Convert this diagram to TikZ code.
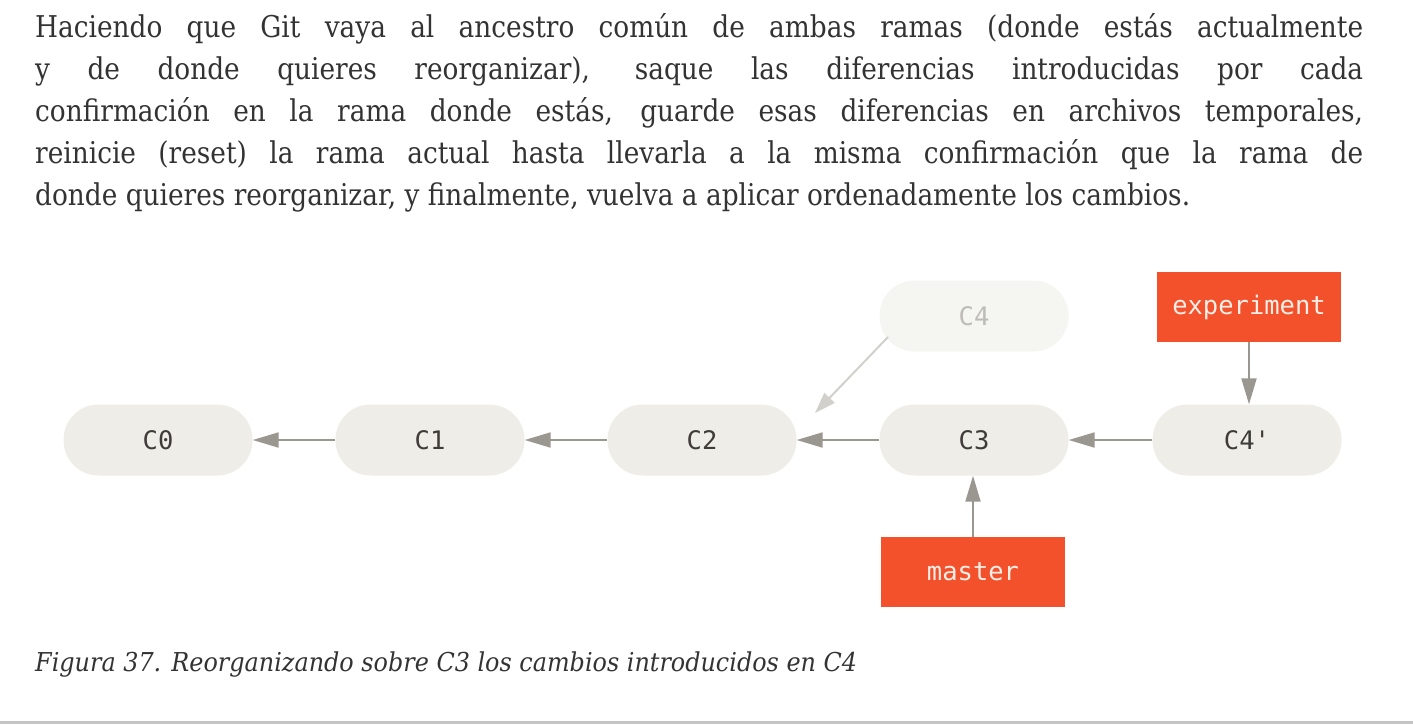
\documentclass[tikz,border=0pt]{standalone}
\usepackage{fontspec}
\usepackage{graphicx}
\setmainfont{DejaVu Serif}
\newfontfamily\monof{DejaVu Sans Mono}
\usetikzlibrary{arrows.meta}
\definecolor{txt}{HTML}{333333}
\definecolor{monotxt}{HTML}{3E3B38}
\definecolor{nodefill}{HTML}{EEEDE7}
\definecolor{ghostfill}{HTML}{F5F5F1}
\definecolor{ghosttxt}{HTML}{BDBCB8}
\definecolor{arrowc}{HTML}{9A9690}
\definecolor{ghostarrow}{HTML}{D2D0CB}
\definecolor{branchred}{HTML}{F3512B}
\definecolor{branchtxt}{HTML}{F3EEE6}
\definecolor{rulec}{HTML}{C4C4C4}
\newlength\natw
\newcommand\parfont{\fontsize{30}{42}\selectfont}
\newcommand\capfont{\fontsize{26}{32}\selectfont\itshape}
\newcommand\lastlinetext{donde quieres reorganizar, y finalmente, vuelva a aplicar ordenadamente los cambios.}
\newcommand\captext{Figura 37. Reorganizando sobre C3 los cambios introducidos en C4}
\newcommand\jline[1]{\parfont\settowidth\natw{\lastlinetext}%
  \pgfmathsetmacro\sc{1155pt/\natw}\pgfmathsetlengthmacro\jw{1328pt/\sc}%
  \scalebox{\sc}[1]{\makebox[\jw][s]{#1}}}
\newcommand\lline{\parfont\settowidth\natw{\lastlinetext}%
  \pgfmathsetmacro\sc{1155pt/\natw}%
  \scalebox{\sc}[1]{\lastlinetext}}
\newcommand\capline{\capfont\settowidth\natw{\captext}%
  \pgfmathsetmacro\sc{822pt/\natw}%
  \scalebox{\sc}[1]{\captext}}
\tikzset{
  commit/.style={fill=nodefill, rounded corners=35pt, minimum width=189pt, minimum height=71pt, inner sep=0pt, text=monotxt, font=\monof\fontsize{25.5}{25.5}\selectfont},
  ghost/.style={commit, fill=ghostfill, text=ghosttxt},
  branch/.style={fill=branchred, minimum width=184pt, minimum height=70pt, inner sep=0pt, text=branchtxt, font=\monof\fontsize{25.5}{25.5}\selectfont},
  arr/.style={draw=arrowc, line width=2pt, -{Triangle[length=26pt,width=15pt]}},
  ghostarr/.style={draw=ghostarrow, line width=2pt, -{Triangle[length=21pt,width=14pt]}},
  line/.style={anchor=base west, inner sep=0pt, text=txt},
}
\begin{document}
\begin{tikzpicture}[x=1pt,y=-1pt]
\useasboundingbox (0,0) rectangle (1413,724);
\node[line] (l1) at (35,37) {\jline{Haciendo que Git vaya al ancestro común de ambas ramas (donde estás actualmente}};
\node[line] (l2) at (35,79) {\jline{y de donde quieres reorganizar), saque las diferencias introducidas por cada}};
\node[line] (l3) at (35,121) {\jline{confirmación en la rama donde estás, guarde esas diferencias en archivos temporales,}};
\node[line] (l4) at (35,163) {\jline{reinicie (reset) la rama actual hasta llevarla a la misma confirmación que la rama de}};
\node[line] (l5) at (35,205) {\lline};
% commits
\node[commit] (C0) at (158,440) {C0};
\node[commit] (C1) at (430,440) {C1};
\node[commit] (C2) at (702,440) {C2};
\node[commit] (C3) at (974,440) {C3};
\node[commit] (C4p) at (1247,440) {C4'};
\node[ghost] (C4) at (974,316) {C4};
\node[branch] (exp) at (1249,307) {experiment};
\node[branch] (master) at (973,572) {master};
% connectors
\draw[arr] (C1.west) -- (C0.east);
\draw[arr] (C2.west) -- (C1.east);
\draw[arr] (C3.west) -- (C2.east);
\draw[arr] (C4p.west) -- (C3.east);
\draw[arr] (exp.south) -- (exp.south |- C4p.north);
\draw[arr] (master.north) -- (master.north |- C3.south);
\draw[ghostarr] ([shift={(-86,21)}]C4.center) -- ([shift={(113,-27)}]C2.center);
% caption
\node[line] (cap) at (35,671) {\capline};
\draw[rulec, line width=3pt] (0,722.5) -- (1413,722.5);
\end{tikzpicture}
\end{document}
